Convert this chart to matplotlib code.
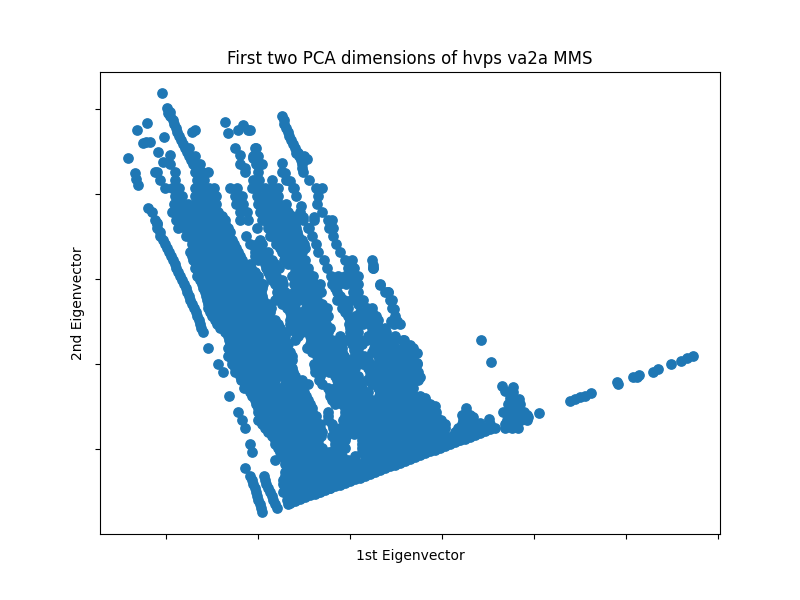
import matplotlib
matplotlib.use("Agg")
import matplotlib.pyplot as plt

TITLE = "First two PCA dimensions of hvps va2a MMS"
XLABEL = "1st Eigenvector"
YLABEL = "2nd Eigenvector"
x_ticks = [166, 258, 350, 442, 534, 626, 718]
y_ticks = [151, 236, 321, 406, 491]

# Loose points read individually (arbitrary projection units)
loose_x = [162, 167, 168, 147, 137, 195, 192, 164, 128, 135, 136, 138, 143, 146, 150, 158, 163, 170, 155,
           225, 228, 243, 238, 248, 250, 235, 240, 255, 245, 253, 148, 152, 157,
           296, 298, 307, 302, 282, 285, 290, 293, 301, 314, 303, 308,
           373, 373, 380, 388, 392, 394, 397, 391, 403, 410, 417, 417, 420, 413, 425, 435,
           481, 491, 489, 539, 502, 505, 513, 513, 510, 519, 528, 466, 462, 470, 473, 480, 495,
           570, 575, 580, 585, 591, 617, 618, 633, 639, 637, 653, 658, 671, 681, 687, 693]
loose_y = [507, 492, 487, 477, 470, 470, 468, 463, 442, 427, 421, 415, 457, 458, 458, 448, 438, 445, 428,
           478, 467, 475, 470, 470, 470, 452, 445, 452, 432, 442, 392, 388, 377,
           447, 447, 441, 432, 437, 427, 419, 412, 394, 383, 383, 372,
           335, 332, 315, 308, 300, 291, 279, 279, 260, 255, 247, 237, 223, 212, 202, 194,
           260, 238, 181, 187, 214, 209, 213, 208, 202, 201, 183, 192, 185, 185, 183, 177, 172,
           199, 201, 203, 204, 207, 218, 216, 223, 225, 223, 228, 231, 236, 239, 242, 244]

# Long thin streaks
streak_a_x = [157, 160, 163, 167, 171, 175, 178, 182, 186, 189, 192, 196, 199, 201]
streak_a_y = [376, 368, 360, 352, 344, 336, 328, 320, 312, 304, 296, 288, 280, 272]
streak_b_x = [170, 173, 176, 179, 183, 187, 191, 284, 286, 289, 293, 297, 301]
streak_b_y = [488, 480, 472, 464, 456, 448, 440, 480, 472, 464, 456, 448, 440]
strip_x = [252, 255, 257, 260, 262, 265, 268, 272, 275]
strip_y = [120, 112, 104, 96, 88, 120, 112, 104, 96]
# Straight lower edge of the wedge
edge_x = [290, 300, 310, 320, 330, 340, 350, 360, 370, 380, 390, 400, 410, 420, 430, 440, 450, 460, 470, 480, 490,
          505, 512, 520, 527,
          295, 305, 315, 325, 335, 345, 355, 365, 375, 385, 395, 405, 415, 425, 435, 445, 455, 465, 475, 485]
edge_y = [97, 101, 105, 108, 112, 115, 119, 122, 126, 130, 134, 137, 141, 145, 149, 152, 156, 160, 163, 167, 171,
          176, 179, 182, 185,
          99, 103, 106, 110, 114, 117, 121, 124, 128, 132, 135, 139, 143, 147, 150, 154, 158, 161, 165, 169]
# Column of points closing the vertical slit in the middle of the cloud
column_x = [354, 353, 352, 354, 355, 356, 355, 355, 354, 353, 353, 354]
column_y = [250, 242, 234, 226, 218, 210, 202, 194, 186, 178, 170, 166]

row_levels = [484, 476, 468, 460, 452, 444, 436, 428, 420, 412, 404, 396, 388, 380, 372, 364, 356, 348, 340, 332,
              324, 316, 308, 300, 292, 284, 276, 268, 260, 252, 244, 236, 228, 220, 212, 204, 196, 188, 180, 172,
              164, 156, 148, 140, 132, 124, 116, 108, 100, 92]

r116 = [170, 282]
r124 = [174, 284]
r132 = [177, 288]
r140 = [181, 291]
r148 = [185, 189, 256, 295]
r156 = [189, 195, 253, 258, 299, 304]
r164 = [170, 193, 200, 240, 256, 262, 302]
r172 = [157, 175, 195, 202, 208, 245, 258, 282, 303]
r180 = [160, 175, 197, 204, 253, 259, 272, 286, 309]
r188 = [165, 172, 179, 195, 202, 209, 214, 230, 237, 252, 258, 265, 272, 278, 294, 316, 322]
r196 = [175, 182, 195, 202, 209, 216, 235, 242, 257, 264, 271, 278, 296, 318]
r204 = [174, 181, 188, 195, 202, 209, 216, 236, 243, 258, 265, 272, 279, 286, 317]
r212 = [172, 179, 186, 193, 200, 207, 214, 218, 240, 247, 260, 267, 274, 281, 288, 300, 322]
r220 = [155, 176, 183, 190, 197, 204, 211, 218, 225, 240, 248, 262, 269, 276, 283, 290, 296, 303, 314, 328, 332]
r228 = [157, 178, 185, 192, 199, 206, 213, 220, 228, 257, 268, 275, 282, 289, 296, 309, 329, 333]
r236 = [160, 186, 193, 200, 207, 214, 221, 228, 246, 270, 277, 284, 291, 298, 312, 333]
r244 = [165, 192, 199, 206, 213, 220, 227, 234, 250, 257, 262, 276, 283, 290, 297, 304, 316, 336]
r252 = [169, 190, 197, 204, 211, 218, 225, 232, 238, 255, 262, 268, 282, 289, 296, 302, 318, 340]
r260 = [173, 193, 200, 207, 214, 221, 228, 235, 242, 258, 265, 272, 284, 291, 298, 305, 324, 345, 352, 372]
r268 = [176, 195, 202, 209, 216, 223, 230, 237, 244, 251, 266, 273, 279, 295, 302, 308, 327, 348, 354, 373]
r276 = [180, 197, 204, 211, 218, 225, 232, 239, 246, 253, 258, 270, 276, 292, 299, 306, 313, 331, 338, 345, 352, 358]
r284 = [184, 202, 209, 216, 223, 230, 237, 244, 251, 258, 263, 275, 283, 294, 301, 308, 315, 320, 332, 339, 346, 353, 358, 380]
r292 = [187, 205, 212, 219, 226, 233, 240, 247, 254, 261, 277, 285, 294, 301, 308, 315, 321, 337, 353, 358, 385, 388]
r300 = [190, 207, 214, 221, 228, 235, 242, 249, 256, 263, 275, 282, 289, 296, 303, 310, 317, 337, 344, 351, 358, 363, 390]
r308 = [194, 208, 215, 222, 229, 236, 243, 250, 257, 264, 271, 287, 294, 306, 313, 320, 327, 342, 348, 367, 372, 392]
r316 = [197, 212, 219, 226, 233, 240, 247, 254, 261, 268, 291, 298, 307, 314, 321, 328, 348, 355, 362, 369, 376, 395]
r324 = [200, 217, 224, 231, 238, 245, 252, 259, 266, 273, 278, 290, 297, 305, 312, 319, 326, 349, 356, 363, 370, 377, 394, 400]
r332 = [203, 225, 232, 239, 246, 253, 260, 267, 274, 281, 286, 295, 302, 309, 316, 323, 328, 350, 358, 372, 379, 386]
r340 = [229, 236, 243, 250, 257, 264, 271, 278, 285, 295, 311, 318, 325, 332, 339, 346, 353, 360, 367, 374, 381, 388, 395, 404]
r348 = [208, 228, 235, 242, 249, 256, 263, 270, 277, 284, 307, 314, 321, 328, 335, 342, 358, 374, 381, 388, 395, 402, 409, 413]
r356 = [228, 235, 242, 249, 256, 263, 270, 277, 284, 292, 317, 324, 331, 338, 344, 358, 364, 378, 385, 392, 399, 405, 413]
r364 = [218, 232, 239, 246, 253, 260, 267, 274, 283, 290, 314, 321, 328, 335, 342, 349, 356, 363, 370, 377, 384, 391, 398, 405, 412, 417]
r372 = [223, 235, 242, 249, 256, 263, 270, 277, 286, 293, 315, 322, 329, 336, 343, 350, 370, 377, 384, 391, 398, 405, 412, 418]
r380 = [241, 248, 255, 262, 269, 275, 288, 295, 302, 319, 337, 344, 351, 356, 367, 374, 381, 388, 395, 402, 409, 416, 418]
r388 = [244, 251, 258, 265, 272, 279, 286, 293, 300, 328, 335, 342, 349, 356, 362, 378, 385, 392, 399, 406, 410]
r396 = [229, 252, 259, 266, 273, 280, 287, 294, 301, 306, 330, 337, 344, 351, 358, 365, 379, 386, 393, 400, 407, 414, 420]
r404 = [256, 263, 270, 277, 284, 291, 298, 305, 310, 335, 342, 347, 354, 361, 368, 375, 382, 389, 396, 403, 410, 417, 424, 430, 508, 515, 520]
r412 = [238, 258, 265, 272, 279, 286, 293, 300, 307, 312, 328, 345, 352, 359, 366, 373, 380, 387, 394, 401, 408, 415, 422, 429, 436, 466, 503, 510, 517, 524]
r420 = [242, 258, 265, 272, 279, 286, 293, 300, 307, 314, 328, 343, 350, 357, 364, 371, 378, 385, 392, 399, 406, 413, 420, 427, 434, 441, 463, 470, 507, 514, 521, 527]
r428 = [245, 265, 272, 279, 286, 293, 300, 307, 314, 320, 333, 340, 347, 354, 361, 368, 375, 382, 389, 396, 403, 410, 417, 424, 431, 438, 445, 458, 465, 472, 479, 486, 505, 512, 518]
r436 = [272, 279, 286, 293, 300, 307, 314, 321, 332, 339, 346, 362, 369, 376, 383, 390, 397, 404, 411, 418, 425, 432, 439, 446, 453, 460, 467]
r444 = [250, 275, 282, 289, 296, 303, 310, 318, 335, 340, 362, 369, 376, 383, 390, 397, 404, 411, 418, 425, 432, 439, 446]
r452 = [252, 280, 287, 294, 301, 308, 315, 322, 329, 336, 340, 362, 369, 376, 383, 390, 397, 404, 411, 418, 425]
r460 = [275, 285, 292, 299, 306, 313, 320, 327, 334, 341, 348, 355, 365, 372, 379, 386, 393, 400]
r468 = [245, 287, 294, 301, 308, 315, 322, 329, 336, 343, 350, 357, 364, 371, 378]
r476 = [250, 264, 285, 292, 299, 306, 313, 320, 327, 334, 341, 348, 355]
r484 = [253, 266, 283, 290, 297, 304, 311, 318, 325, 332, 339]
r492 = [256, 270, 283, 290, 297, 304, 311, 318]
r500 = [258, 273, 287, 294]
r508 = [261, 277]

rows = [r116, r124, r132, r140, r148, r156, r164, r172, r180, r188, r196, r204, r212, r220, r228, r236, r244,
        r252, r260, r268, r276, r284, r292, r300, r308, r316, r324, r332, r340, r348, r356, r364, r372, r380,
        r388, r396, r404, r412, r420, r428, r436, r444, r452, r460, r468, r476, r484, r492, r500, r508]

# Extra rows between the first ones, where the cloud is solid
mid_levels = [392, 384, 376, 368, 360, 352, 344, 336, 328, 320, 312, 304, 296, 288, 280, 272, 264, 256, 248, 240,
              232, 224, 216, 208, 200, 192, 184, 176, 168, 160, 152, 144, 136, 128, 120, 112, 104, 96]
m208 = [180, 195, 210, 262, 275, 285]
m216 = [180, 195, 210, 222, 265, 280, 292]
m224 = [182, 195, 210, 225, 268, 282, 295]
m232 = [190, 205, 220, 230, 272, 285, 297]
m240 = [192, 205, 220, 232, 260, 276, 290, 302]
m248 = [195, 210, 225, 236, 255, 280, 295, 305]
m256 = [192, 205, 220, 235, 240, 255, 265, 285, 300]
m264 = [196, 210, 225, 240, 250, 265, 275, 288, 302]
m272 = [198, 212, 228, 243, 255, 268, 295, 308]
m280 = [200, 215, 230, 245, 258, 272, 282, 295, 310, 335, 350]
m288 = [203, 218, 232, 247, 262, 278, 297, 312, 335, 355]
m296 = [206, 220, 235, 250, 262, 278, 288, 300, 315, 340, 355]
m304 = [208, 222, 238, 253, 268, 282, 295, 308, 322, 345, 358]
m312 = [210, 225, 240, 255, 270, 290, 300, 310, 325, 345, 360, 372]
m320 = [215, 230, 245, 260, 275, 290, 300, 310, 325, 350, 365, 378]
m328 = [220, 235, 250, 265, 280, 292, 305, 318, 330, 350, 372, 385]
m336 = [228, 240, 255, 270, 285, 298, 310, 325, 340, 355, 368, 382, 395]
m344 = [230, 245, 260, 275, 288, 310, 325, 340, 352, 362, 375, 390, 405]
m352 = [230, 245, 260, 275, 290, 312, 328, 342, 358, 372, 388, 402, 412]
m360 = [232, 248, 262, 278, 292, 318, 332, 345, 358, 368, 380, 395, 410]
m368 = [235, 250, 265, 280, 292, 315, 330, 345, 355, 368, 382, 398, 412]
m376 = [240, 255, 270, 282, 295, 320, 335, 348, 358, 370, 385, 400, 414]
m384 = [245, 258, 272, 285, 298, 308, 322, 338, 350, 360, 372, 388, 402, 412]
m392 = [250, 262, 278, 292, 304, 330, 345, 358, 368, 380, 395, 408]
m400 = [255, 268, 282, 296, 308, 332, 348, 362, 372, 385, 400, 415, 425]
m408 = [258, 272, 288, 302, 312, 345, 358, 372, 388, 402, 418, 432]
m416 = [260, 275, 290, 305, 316, 328, 345, 360, 375, 390, 405, 420, 436]
m424 = [262, 278, 292, 308, 320, 332, 345, 360, 375, 390, 405, 420, 435, 445, 462, 475, 490]
m432 = [268, 282, 298, 312, 322, 335, 345, 362, 378, 392, 408, 422, 438, 455, 470]
m440 = [275, 290, 305, 318, 335, 345, 362, 378, 395, 410, 425, 440, 458]
m448 = [278, 292, 308, 322, 335, 345, 362, 378, 392, 408, 425, 437]
m456 = [282, 298, 312, 328, 342, 355, 365, 380, 395, 410]
m464 = [285, 300, 315, 330, 345, 358, 375, 390]
m472 = [285, 300, 315, 330, 345, 360, 372]
m480 = [283, 298, 312, 328, 342, 350]
m488 = [285, 300, 315, 330]
m496 = [288, 305]
m504 = [288]
mids = [m208, m216, m224, m232, m240, m248, m256, m264, m272, m280, m288, m296, m304, m312, m320, m328, m336, m344,
        m352, m360, m368, m376, m384, m392, m400, m408, m416, m424, m432, m440, m448, m456, m464, m472, m480, m488,
        m496, m504]

x_vals = loose_x + streak_a_x + streak_b_x + strip_x + edge_x + column_x
y_vals = loose_y + streak_a_y + streak_b_y + strip_y + edge_y + column_y
for level, row in zip(row_levels, rows):
    x_vals.extend(row)
    y_vals.extend([level] * len(row))
for level, row in zip(mid_levels, mids):
    x_vals.extend(row)
    y_vals.extend([level] * len(row))

fig, ax = plt.subplots(figsize=(8, 6), dpi=100)
ax.scatter(x_vals, y_vals, s=45)
ax.set_xlim(100, 720)
ax.set_ylim(66, 528)
ax.set_xticks(x_ticks)
ax.set_yticks(y_ticks)
ax.set_xticklabels([])
ax.set_yticklabels([])
ax.set_title(TITLE)
ax.set_xlabel(XLABEL)
ax.set_ylabel(YLABEL)
fig.savefig("out.png", dpi=100)
